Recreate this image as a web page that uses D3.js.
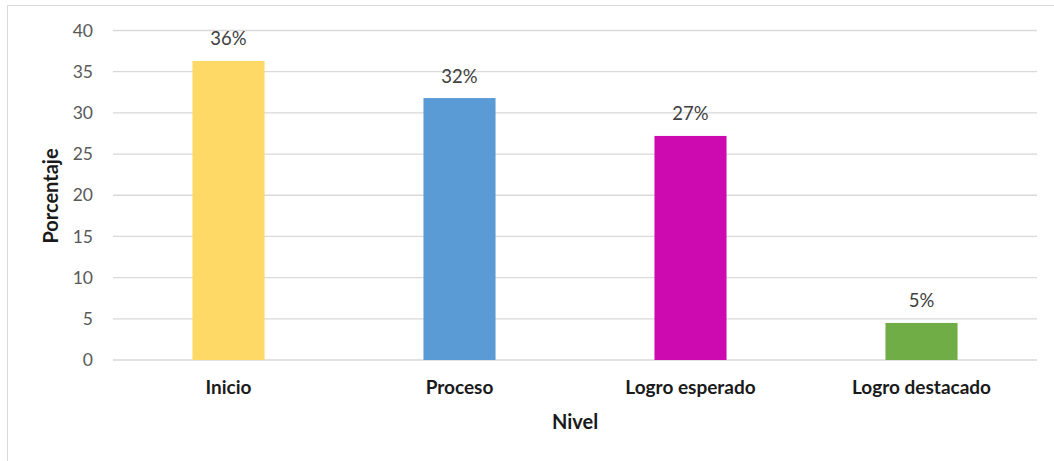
<!DOCTYPE html>
<html>
<head>
<meta charset="utf-8">
<script src="https://cdn.jsdelivr.net/npm/d3@7"></script>
<style>
  html, body { margin: 0; padding: 0; background: #fff; }
  svg { display: block; }
</style>
</head>
<body>
<script>
const categories = ["Inicio", "Proceso", "Logro esperado", "Logro destacado"];
const values = [36.3, 31.8, 27.2, 4.5];
const labels = ["36%", "32%", "27%", "5%"];
const colors = ["#FFD966", "#5B9BD5", "#CC0AB0", "#70AD47"];
const yTicks = [0, 5, 10, 15, 20, 25, 30, 35, 40];

const W = 1054, H = 461;
const svg = d3.select("body").append("svg").attr("width", W).attr("height", H);
const font = "Lato, 'Open Sans', sans-serif";

// frame
svg.append("path")
  .attr("d", `M7.5,${H} L7.5,5.5 L${W},5.5`)
  .attr("fill", "none").attr("stroke", "#d9d9d9").attr("stroke-width", 1);

const x0 = 113, x1 = 1037, yTop = 30.5, yBot = 360;
const x = d3.scaleBand().domain(categories).range([x0, x1]).paddingInner(0.688).paddingOuter(0.344);
const y = d3.scaleLinear().domain([0, 40]).range([yBot, yTop]);

// gridlines
svg.append("g").selectAll("line").data(yTicks).join("line")
  .attr("x1", x0).attr("x2", x1)
  .attr("y1", d => y(d)).attr("y2", d => y(d))
  .attr("stroke", "#d9d9d9").attr("stroke-width", 1.3);

// y axis labels
const yAxis = d3.axisLeft(y).tickValues(yTicks).tickSize(0).tickPadding(0);
const gy = svg.append("g").attr("transform", `translate(93,0)`).call(yAxis);
gy.select(".domain").remove();
gy.selectAll("text").attr("font-family", font).attr("font-size", 17.5).attr("fill", "#595959");

// bars
svg.append("g").selectAll("rect").data(categories).join("rect")
  .attr("x", d => x(d)).attr("width", x.bandwidth())
  .attr("y", (d, i) => y(values[i])).attr("height", (d, i) => yBot - y(values[i]))
  .attr("fill", (d, i) => colors[i]);

// value labels
svg.append("g").selectAll("text").data(categories).join("text")
  .attr("x", d => x(d) + x.bandwidth() / 2)
  .attr("y", (d, i) => y(values[i]) - 15.5)
  .attr("text-anchor", "middle")
  .attr("font-family", font).attr("font-size", 18.5).attr("fill", "#404040")
  .text((d, i) => labels[i]);

// x axis labels
const xAxis = d3.axisBottom(x).tickSize(0).tickPadding(0);
const gx = svg.append("g").attr("transform", `translate(0,${yBot})`).call(xAxis);
gx.select(".domain").remove();
gx.selectAll("text").attr("y", 34).attr("dy", 0)
  .attr("font-family", font).attr("font-size", 19)
  .attr("font-weight", "bold").attr("fill", "#1a1a1a");

// axis titles
svg.append("text").attr("x", 575).attr("y", 429)
  .attr("text-anchor", "middle").attr("font-family", font).attr("font-size", 20)
  .attr("font-weight", "bold").attr("fill", "#1a1a1a").text("Nivel");

svg.append("text").attr("transform", "translate(58,196) rotate(-90)")
  .attr("text-anchor", "middle").attr("font-family", font).attr("font-size", 20)
  .attr("font-weight", "bold").attr("fill", "#1a1a1a").text("Porcentaje");
</script>
</body>
</html>
